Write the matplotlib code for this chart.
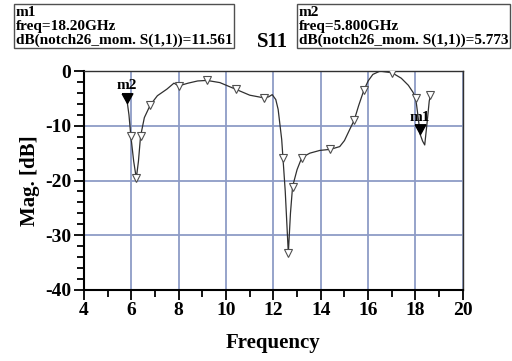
import matplotlib
matplotlib.use('Agg')
import matplotlib.pyplot as plt
from matplotlib.ticker import MultipleLocator

plt.rcParams['font.family'] = 'Liberation Serif'
plt.rcParams['font.weight'] = 'bold'
plt.rcParams['axes.unicode_minus'] = False

# S11 trace (GHz, dB)
freq = [5.80, 5.90, 5.98, 6.10, 6.21, 6.30, 6.39, 6.55, 6.80, 7.10, 7.50, 7.80,
        8.00, 8.40, 8.80, 9.19, 9.74, 10.40, 11.00, 11.61, 11.80, 11.95, 12.10,
        12.20, 12.35, 12.50, 12.63, 12.72, 12.81, 13.00, 13.20, 13.54, 13.96,
        14.41, 14.80, 15.00, 15.23, 15.41, 15.60, 15.82, 16.00, 16.20, 16.50,
        17.01, 17.40, 17.70, 17.90, 18.01, 18.10, 18.20, 18.30, 18.39, 18.50,
        18.58, 18.63]
mag = [-4.8, -8.0, -11.9, -16.5, -19.6, -16.5, -11.9, -8.5, -6.2, -4.5, -3.3,
       -2.2, -2.7, -2.2, -1.8, -1.7, -2.1, -3.3, -4.4, -4.9, -4.7, -4.3, -5.2,
       -7.0, -12.5, -22.0, -33.3, -26.0, -21.1, -18.0, -15.8, -15.0, -14.5,
       -14.3, -13.8, -12.7, -10.6, -9.0, -6.3, -3.5, -1.8, -0.6, 0.0, -0.3,
       -1.3, -2.6, -3.9, -5.0, -8.0, -11.6, -12.8, -13.5, -9.0, -5.5, -4.4]

# open triangle sample markers
mk_freq = [5.80, 5.98, 6.21, 6.39, 6.80, 8.00, 9.19, 10.40, 11.61, 12.39,
           12.63, 12.81, 13.20, 14.41, 15.41, 15.82, 17.01, 18.01, 18.63]
mk_mag = [-4.8, -11.9, -19.6, -11.9, -6.2, -2.7, -1.7, -3.3, -4.9, -15.8,
          -33.3, -21.1, -15.8, -14.3, -9.0, -3.5, -0.3, -5.0, -4.4]

# named markers
m_names = ['m1', 'm2']
m_freq = [18.20, 5.80]
m_mag = [-11.561, -5.773]

fig = plt.figure(figsize=(5.12, 3.61), dpi=100)
ax = fig.add_axes([0.164, 0.197, 0.740, 0.606])

ax.plot(freq, mag, color='#303030', linewidth=0.9, zorder=3)
ax.plot(mk_freq, mk_mag, linestyle='none', marker='v', markersize=6,
        markerfacecolor='white', markeredgecolor='#505050',
        markeredgewidth=0.8, zorder=4)
# filled marker with its tip on the data point
tip = [(-0.55, 1.0), (0.55, 1.0), (0.0, 0.0), (-0.55, 1.0)]
ax.plot(m_freq, m_mag, linestyle='none', marker=tip, markersize=14,
        color='black', zorder=5)
for name, f, m in zip(m_names, m_freq, m_mag):
    ax.text(f, m + 1.9, name, ha='center', va='bottom', fontsize=11,
            fontweight='bold', zorder=6)

ax.set_xlim(4, 20)
ax.set_ylim(-40, 0)
ax.xaxis.set_major_locator(MultipleLocator(2))
ax.xaxis.set_minor_locator(MultipleLocator(1))
ax.yaxis.set_major_locator(MultipleLocator(10))
ax.yaxis.set_minor_locator(MultipleLocator(2))
ax.grid(True, which='major', color='#8e9cc6', linewidth=1.3)
ax.set_axisbelow(True)

ax.tick_params(which='major', direction='out', length=7, width=1.3,
               labelsize=14, pad=2)
ax.tick_params(which='minor', direction='out', length=5, width=1.3)
for lab in ax.get_xticklabels() + ax.get_yticklabels():
    lab.set_fontweight('bold')

for side in ['left', 'bottom']:
    ax.spines[side].set_linewidth(1.5)
for side in ['top', 'right']:
    ax.spines[side].set_linewidth(1.0)
    ax.spines[side].set_color('#303030')

ax.set_xlabel('Frequency', fontsize=15, fontweight='bold', labelpad=10)
ax.set_ylabel('Mag. [dB]', fontsize=15, fontweight='bold', labelpad=4)

box = dict(boxstyle='square,pad=0.12', facecolor='white', edgecolor='#505050',
           linewidth=1.0)
fig.text(0.031, 0.983, 'm1\nfreq=18.20GHz\ndB(notch26_mom. S(1,1))=11.561',
         ha='left', va='top', fontsize=11, fontweight='bold',
         linespacing=1.05, bbox=box)
fig.text(0.502, 0.885, 'S11', ha='left', va='center', fontsize=15,
         fontweight='bold')
fig.text(0.584, 0.983, 'm2\nfreq=5.800GHz\ndB(notch26_mom. S(1,1))=5.773',
         ha='left', va='top', fontsize=11, fontweight='bold',
         linespacing=1.05, bbox=box)

plt.savefig('out.png', dpi=100)
plt.close()
